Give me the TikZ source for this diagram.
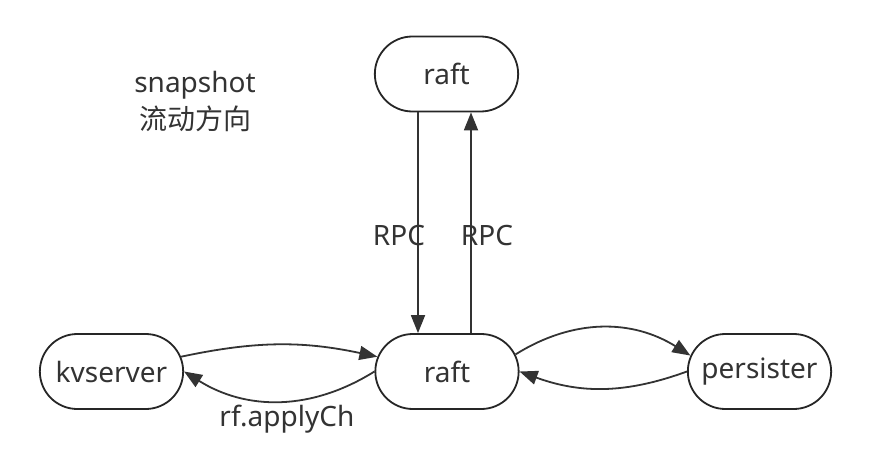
\documentclass[tikz,border=0pt]{standalone}
\usepackage{fontspec}
\setmainfont{Noto Sans}
\newfontfamily\cjk{Noto Sans CJK SC}
\usetikzlibrary{
    arrows.meta,
    shapes.misc
}

\begin{document}
\begin{tikzpicture}[
    x=1pt, y=-1pt,
    font=\fontsize{28}{37}\selectfont,
    box/.style={
        rounded rectangle,
        draw=black!85,
        line width=1.8pt,
        minimum width=150pt,
        minimum height=75pt,
        text=black!80,
        fill=white
    },
    arrow/.style={
        -{Triangle[length=18pt,width=14pt]},
        line width=1.8pt,
        draw=black!80
    },
    note/.style={
        text=black!80,
        align=center,
        inner sep=0pt
    }
]

\useasboundingbox (0,0) rectangle (871,472);

% =========================================================
% Nodes
% =========================================================
\node[box] (rafttop) at (446.5,74) {raft};

\node[box] (raft) at (447,371.5) {raft};

\node[box] (kvserver) at (111.5,371.5) {kvserver};

\node[box] (persister) at (759.5,371.5) {persister};

\node[note] (flow) at (195,102) {snapshot\\{\cjk 流动方向}};

% =========================================================
% RPC between the two rafts
% =========================================================
\draw[arrow] ([xshift=-28.5pt]rafttop.south) -- ([xshift=-29pt]raft.north)
    node[pos=0.56, xshift=-19pt, note] {RPC};
\draw[arrow] ([xshift=24pt]raft.north) -- ([xshift=24.5pt]rafttop.south)
    node[pos=0.44, xshift=16pt, note] {RPC};

% =========================================================
% kvserver <-> raft
% =========================================================
\draw[arrow] (kvserver.12) to[out=12, in=168] (raft.168);
\draw[arrow] (raft.west) to[out=-148, in=-32]
    node[pos=0.46, below=3pt, note] {rf.applyCh} (kvserver.east);

% =========================================================
% raft <-> persister
% =========================================================
\draw[arrow] (raft.14) to[out=32, in=148] (persister.167);
\draw[arrow] (persister.west) to[out=-160, in=-20] (raft.east);

\end{tikzpicture}
\end{document}
